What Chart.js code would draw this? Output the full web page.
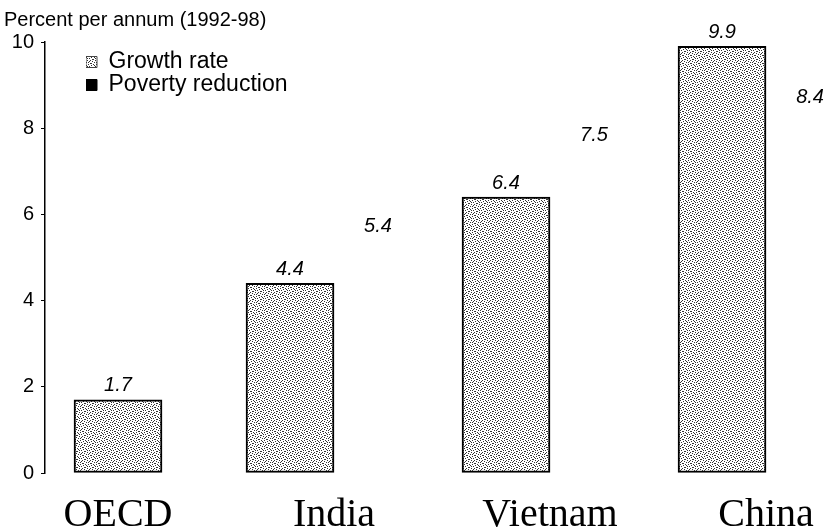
<!DOCTYPE html>
<html>
<head>
<meta charset="utf-8">
<script src="https://cdn.jsdelivr.net/npm/chart.js@4.4.1/dist/chart.umd.min.js"></script>
<style>
  html, body { margin: 0; padding: 0; background: #fff; }
</style>
</head>
<body>
<canvas id="myChart" width="825" height="531"></canvas>
<script>
'use strict';

// values
const categories = ['OECD', 'India', 'Vietnam', 'China'];
const growthRate = [1.7, 4.4, 6.4, 9.9];
const povertyReduction = [null, 5.4, 7.5, 8.4];
const yTicks = [0, 2, 4, 6, 8, 10];

const sans = "'Liberation Sans', Arial, sans-serif";
const serif = "'Liberation Serif', 'Times New Roman', serif";

// speckled grey fill, like the scanned bars
function speckle() {
  const c = document.createElement('canvas');
  c.width = 8;
  c.height = 8;
  const g = c.getContext('2d');
  g.fillStyle = '#fff';
  g.fillRect(0, 0, 8, 8);
  g.fillStyle = '#333';
  const dots = [[0, 0], [3, 1], [6, 1], [1, 2], [5, 3], [2, 4], [7, 4], [4, 5],
    [0, 6], [6, 6], [3, 7], [1, 5], [5, 0], [7, 2], [2, 7], [4, 3]];
  dots.forEach(d => g.fillRect(d[0], d[1], 1, 1));
  return g.createPattern(c, 'repeat');
}

const barLabels = {
  id: 'barLabels',
  afterDatasetsDraw(chart) {
    const ctx = chart.ctx;
    ctx.save();
    ctx.font = 'italic 20px ' + sans;
    ctx.fillStyle = '#000';
    ctx.textAlign = 'center';
    ctx.textBaseline = 'bottom';
    chart.data.datasets.forEach((ds, i) => {
      chart.getDatasetMeta(i).data.forEach((bar, j) => {
        const v = ds.data[j].y;
        if (v == null) return;
        ctx.fillText(v.toFixed(1), bar.x, bar.y - 4);
      });
    });
    ctx.restore();
  }
};

// put the legend inside the plot, top left
const legendPlace = {
  id: 'legendPlace',
  afterLayout(chart) {
    const lg = chart.legend;
    lg.left = 86;
    lg.right = lg.left + lg.width;
    lg.top = 50.5;
    lg.bottom = lg.top + lg.height;
  }
};

const ctx = document.getElementById('myChart').getContext('2d');

const myChart = new Chart(ctx, {
  type: 'bar',
  data: {
    datasets: [
      {
        label: 'Growth rate',
        data: growthRate.map((v, i) => ({ x: i, y: v })),
        backgroundColor: speckle(),
        borderColor: '#000',
        borderWidth: 2,
        borderSkipped: false,
        barThickness: 88,
        skipNull: true
      },
      {
        label: 'Poverty reduction',
        data: povertyReduction.map((v, i) => ({ x: i, y: v })),
        backgroundColor: 'rgba(255,255,255,0)',
        borderWidth: 0,
        barThickness: 88,
        skipNull: true
      }
    ]
  },
  options: {
    responsive: false,
    animation: false,
    layout: { padding: { left: 4, right: 0, top: 0, bottom: 0 } },
    scales: {
      x: {
        type: 'linear',
        offset: false,
        min: -0.338,
        max: 3.273,
        grid: { display: false },
        border: { display: false },
        afterBuildTicks(scale) {
          scale.ticks = categories.map((c, i) => ({ value: i }));
        },
        afterFit(scale) { scale.height = 58; },
        ticks: {
          padding: 10,
          color: '#000',
          font: { family: serif, size: 40 },
          callback: (value) => categories[value]
        }
      },
      y: {
        min: 0,
        max: 10,
        afterBuildTicks(scale) {
          scale.ticks = yTicks.map(v => ({ value: v }));
        },
        afterFit(scale) { scale.width = 41; },
        grid: {
          drawOnChartArea: false,
          drawTicks: true,
          tickLength: 4,
          color: '#000'
        },
        border: { display: true, color: '#000', width: 1.5 },
        ticks: {
          padding: 7,
          color: '#000',
          font: { family: sans, size: 20 }
        }
      }
    },
    plugins: {
      title: {
        display: true,
        text: 'Percent per annum (1992-98)',
        align: 'start',
        color: '#000',
        font: { family: sans, size: 20, weight: 'normal' },
        padding: { top: 8, bottom: 10 }
      },
      legend: {
        position: 'chartArea',
        align: 'start',
        labels: {
          boxWidth: 11,
          boxHeight: 11,
          padding: 0,
          color: '#000',
          font: { family: sans, size: 23 },
          generateLabels(chart) {
            const items = Chart.defaults.plugins.legend.labels.generateLabels(chart);
            items.forEach(it => { it.lineWidth = 1; it.strokeStyle = '#444'; });
            items[1].fillStyle = '#000';
            items[1].strokeStyle = '#000';
            return items;
          }
        }
      },
      tooltip: { enabled: false }
    }
  },
  plugins: [barLabels, legendPlace]
});
</script>
</body>
</html>
